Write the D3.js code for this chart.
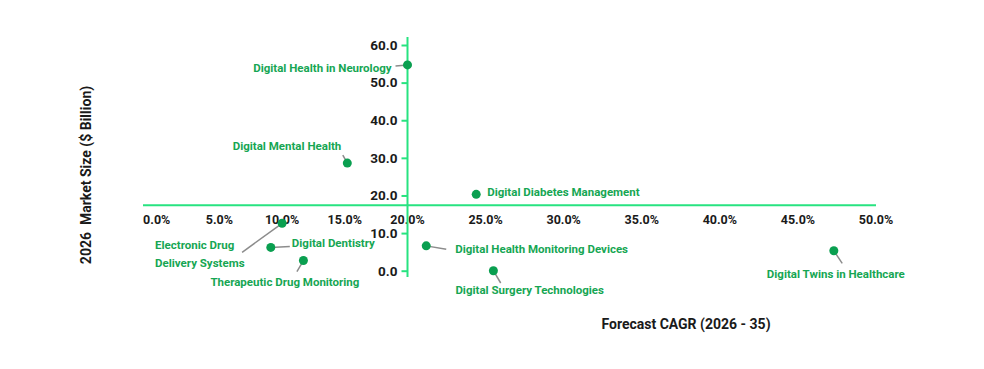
<!DOCTYPE html>
<html><head><meta charset="utf-8">
<script src="https://cdn.jsdelivr.net/npm/d3@7"></script>
<style>
body{margin:0;background:#fff}
svg{display:block;font-family:Roboto,"Noto Sans",sans-serif}
</style></head><body>
<svg id="chart" width="984" height="369"></svg>
<script>
// ---- data ----
const names = [
  "Digital Health in Neurology",
  "Digital Mental Health",
  "Digital Diabetes Management",
  "Electronic Drug Delivery Systems",
  "Digital Dentistry",
  "Therapeutic Drug Monitoring",
  "Digital Health Monitoring Devices",
  "Digital Surgery Technologies",
  "Digital Twins in Healthcare"
];
const cagr = [20.0, 15.2, 24.4, 10.0, 9.1, 11.7, 21.2, 25.5, 47.3];
const marketSize = [54.7, 28.6, 20.3, 12.6, 6.2, 2.7, 6.6, 0.0, 5.3];
const xTicks = [0, 5, 10, 15, 20, 25, 30, 35, 40, 45, 50];
const yTicks = [0, 10, 20, 30, 40, 50, 60];
const xCross = 20;     // CAGR where the vertical axis sits
const yCross = 17.4;   // market size where the horizontal axis sits
const xTitle = "Forecast CAGR (2026 - 35)";
const yTitle = "2026  Market Size ($ Billion)";

// ---- label layout (style, not data) ----
const labelLayout = {
  "Digital Health in Neurology":      {anchor:"end",   dx:-16, dy:[7],      lead:[[-12,1],[0,0]]},
  "Digital Mental Health":            {anchor:"end",   dx:-6,  dy:[-13],    lead:[[-4.5,-8],[0,0]]},
  "Digital Diabetes Management":      {anchor:"start", dx:11,  dy:[2],      lead:null},
  "Electronic Drug Delivery Systems": {anchor:"start", dx:-127,dy:[26,44],  lines:["Electronic Drug","Delivery Systems"], lead:[[-40,29],[0,0]]},
  "Digital Dentistry":                {anchor:"start", dx:21,  dy:[0],      lead:[[0,0],[19,-1]]},
  "Therapeutic Drug Monitoring":      {anchor:"start", dx:-93, dy:[25],     lead:[[-6.5,11],[0,0]]},
  "Digital Health Monitoring Devices":{anchor:"start", dx:29,  dy:[7.5],    lead:[[0,0],[20,3.3]]},
  "Digital Surgery Technologies":     {anchor:"start", dx:-38, dy:[23.5],   lead:[[0,0],[7.3,12.3]]},
  "Digital Twins in Healthcare":      {anchor:"start", dx:-67, dy:[27],     lead:[[0,0],[8.4,12.6]]}
};

const AXIS = "#27e380", POINT = "#0a9f50", LABEL = "#16a653", LEAD = "#8c8c8c", TXT = "#1a1a1a";

const svg = d3.select("#chart");
const x = d3.scaleLinear().domain([0, 20, 50]).range([156.7, 407.5, 876]);
const y = d3.scaleLinear().domain([0, 60]).range([270.7, 45]);

const data = names.map((n, i) => ({name: n, x: cagr[i], y: marketSize[i]}));

// horizontal axis line
svg.append("line")
  .attr("x1", 143).attr("x2", 876)
  .attr("y1", y(yCross)).attr("y2", y(yCross))
  .attr("stroke", AXIS).attr("stroke-width", 2);

// x tick labels
svg.append("g").selectAll("text").data(xTicks).join("text")
  .attr("x", d => x(d)).attr("y", y(yCross) + 19)
  .attr("text-anchor", "middle")
  .attr("font-size", 12.5).attr("font-weight", 700).attr("fill", TXT)
  .text(d => d3.format(".1f")(d) + "%");

// vertical axis
const yAxis = d3.axisLeft(y).tickValues(yTicks).tickFormat(d3.format(".1f")).tickSize(6).tickPadding(4);
const gy = svg.append("g").attr("transform", `translate(${x(xCross)},0)`).call(yAxis);
gy.select(".domain").remove();
gy.selectAll(".tick line").attr("stroke", AXIS).attr("stroke-width", 2);
gy.selectAll(".tick text").attr("font-size", 13.5).attr("font-weight", 700).attr("fill", TXT)
  .attr("font-family", "Roboto, sans-serif");
svg.append("line")
  .attr("x1", x(xCross)).attr("x2", x(xCross))
  .attr("y1", 37).attr("y2", 277)
  .attr("stroke", AXIS).attr("stroke-width", 2);

// leader lines
svg.append("g").selectAll("line").data(data.filter(d => labelLayout[d.name].lead)).join("line")
  .attr("x1", d => x(d.x) + labelLayout[d.name].lead[0][0])
  .attr("y1", d => y(d.y) + labelLayout[d.name].lead[0][1])
  .attr("x2", d => x(d.x) + labelLayout[d.name].lead[1][0])
  .attr("y2", d => y(d.y) + labelLayout[d.name].lead[1][1])
  .attr("stroke", LEAD).attr("stroke-width", 1.5);

// points
svg.append("g").selectAll("circle").data(data).join("circle")
  .attr("cx", d => x(d.x)).attr("cy", d => y(d.y)).attr("r", 4.5)
  .attr("fill", POINT);

// labels
const lab = svg.append("g").selectAll("text").data(data).join("text")
  .attr("text-anchor", d => labelLayout[d.name].anchor)
  .attr("font-size", 11.5).attr("font-weight", 700).attr("fill", LABEL);
lab.each(function(d) {
  const L = labelLayout[d.name];
  const lines = L.lines || [d.name];
  d3.select(this).selectAll("tspan").data(lines).join("tspan")
    .attr("x", x(d.x) + L.dx)
    .attr("y", (t, i) => y(d.y) + L.dy[i])
    .text(t => t);
});

// axis titles
svg.append("text")
  .attr("x", 686).attr("y", 329)
  .attr("text-anchor", "middle").attr("font-size", 14).attr("font-weight", 700).attr("fill", TXT)
  .text(xTitle);
svg.append("text")
  .attr("transform", "translate(91,175) rotate(-90)")
  .attr("text-anchor", "middle").attr("font-size", 14).attr("font-weight", 700).attr("fill", TXT)
  .style("white-space", "pre")
  .text(yTitle);
</script>
</body></html>
